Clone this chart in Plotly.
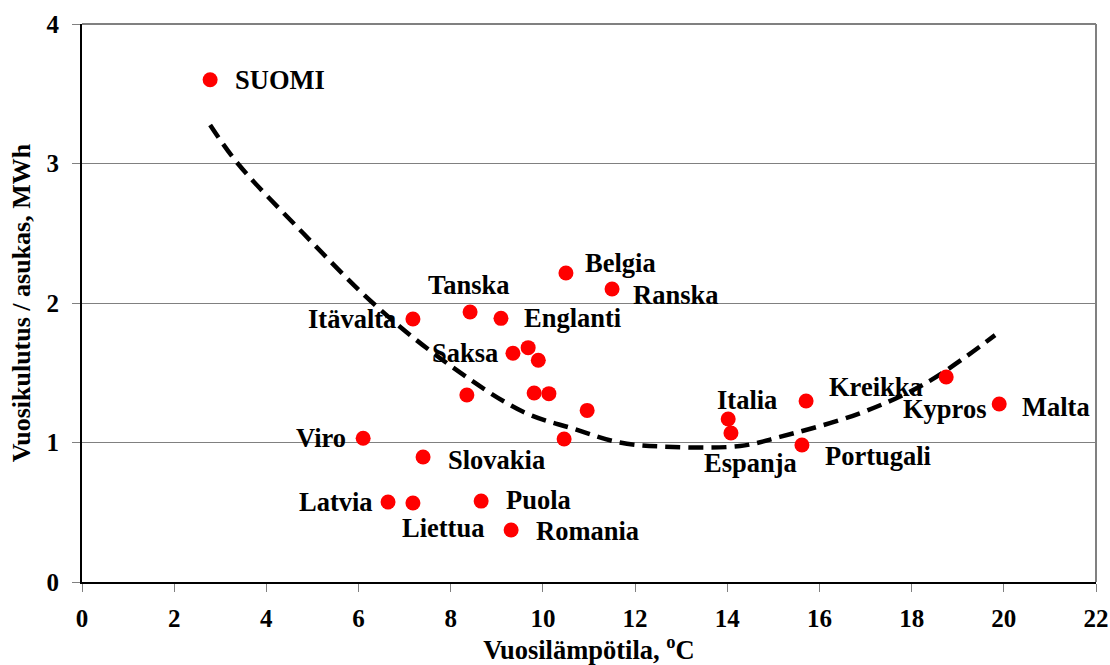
import plotly.graph_objects as go

# annual mean temperature (C) and annual consumption per inhabitant (MWh)
countries = ["SUOMI", "Itävalta", "Tanska", "Englanti", "Belgia", "Ranska",
             "Saksa", "", "", "", "", "", "", "",
             "Viro", "Slovakia", "Latvia", "Liettua", "Puola", "Romania",
             "Italia", "Espanja", "Kreikka", "Portugali", "Kypros", "Malta"]
temp = [2.78, 7.18, 8.42, 9.09, 10.50, 11.50,
        9.35, 9.68, 9.90, 8.35, 9.81, 10.13, 10.96, 10.46,
        6.10, 7.40, 6.64, 7.18, 8.66, 9.31,
        14.02, 14.08, 15.71, 15.62, 18.75, 19.90]
consumption = [3.60, 1.885, 1.935, 1.89, 2.215, 2.10,
               1.64, 1.68, 1.59, 1.34, 1.355, 1.35, 1.23, 1.025,
               1.03, 0.896, 0.573, 0.566, 0.58, 0.373,
               1.168, 1.068, 1.297, 0.982, 1.47, 1.276]

# trend line
trend_x = [2.78, 3.38, 4.8, 6.31, 7.83, 9.57, 10.65, 11.67, 12.82, 14.28, 15.14, 16.88, 18.33, 19.81]
trend_y = [3.276, 3.0, 2.50, 2.0, 1.59, 1.22, 1.10, 1.00, 0.968, 0.975, 1.04, 1.21, 1.43, 1.77]

x_ticks = list(range(0, 23, 2))
y_ticks = [0, 1, 2, 3, 4]

FONT = "Liberation Serif"

# label placement: (xanchor, xshift, yshift) in px
LABEL_POS = {
    "SUOMI": ("left", 23, 0),
    "Itävalta": ("right", -15, 0),
    "Tanska": ("center", -1, 27),
    "Englanti": ("left", 21, 0),
    "Belgia": ("left", 17, 10),
    "Ranska": ("left", 19, -6),
    "Saksa": ("right", -13, 0),
    "Viro": ("right", -15, 0),
    "Slovakia": ("left", 23, -3),
    "Latvia": ("right", -13, 0),
    "Liettua": ("center", 30, -25),
    "Puola": ("left", 23, 1),
    "Romania": ("left", 23, -1),
    "Italia": ("center", 19, 19),
    "Espanja": ("center", 20, -30),
    "Kreikka": ("left", 21, 14),
    "Portugali": ("left", 21, -11),
    "Kypros": ("center", -2, -32),
    "Malta": ("left", 21, -3),
}

fig = go.Figure()

fig.add_trace(go.Scatter(
    x=trend_x, y=trend_y, mode="lines", line_shape="spline",
    line=dict(color="black", width=4.5, dash="15px,8px"),
    showlegend=False, hoverinfo="skip",
))

fig.add_trace(go.Scatter(
    x=temp, y=consumption, mode="markers",
    marker=dict(color="#ff0000", size=15, line=dict(width=0)),
    text=countries, showlegend=False,
))

for name, tx, cy in zip(countries, temp, consumption):
    if not name:
        continue
    anchor, dx, dy = LABEL_POS[name]
    fig.add_annotation(
        x=tx, y=cy, text=name, showarrow=False,
        xanchor=anchor, yanchor="middle", xshift=dx, yshift=dy,
        font=dict(family=FONT, size=26.5, color="black", weight="bold"),
    )

# grey frame on top and right
fig.add_shape(type="line", xref="paper", yref="paper", x0=0, x1=1, y0=1, y1=1,
              line=dict(color="#808080", width=2))
fig.add_shape(type="line", xref="paper", yref="paper", x0=1, x1=1, y0=0, y1=1,
              line=dict(color="#808080", width=2))

fig.update_layout(
    width=1110, height=665,
    paper_bgcolor="white", plot_bgcolor="white",
    margin=dict(l=82, r=14, t=24, b=83),
    font=dict(family=FONT, color="black"),
    xaxis=dict(
        range=[0, 22], tickvals=x_ticks, showgrid=False, zeroline=False,
        showline=True, linecolor="black", linewidth=2, automargin=False,
        ticks="outside", ticklen=8, tickcolor="#808080", tickwidth=1,
        ticklabelstandoff=5,
        tickfont=dict(family=FONT, size=25, weight="bold"),
        title=dict(text="Vuosilämpötila, <sup>o</sup>C", standoff=8,
                   font=dict(family=FONT, size=26.5, weight="bold")),
    ),
    yaxis=dict(
        range=[0, 4], tickvals=y_ticks, showgrid=True, gridcolor="#808080", gridwidth=1,
        zeroline=False, showline=True, linecolor="black", linewidth=2, automargin=False,
        ticks="outside", ticklen=8, tickcolor="#808080", tickwidth=1,
        ticklabelstandoff=8,
        tickfont=dict(family=FONT, size=25, weight="bold"),
        title=dict(text="Vuosikulutus / asukas, MWh", standoff=8,
                   font=dict(family=FONT, size=26, weight="bold")),
    ),
)

fig.write_html(
    "out.html",
    config={"displayModeBar": False},
    post_script="document.body.style.margin='0';document.body.style.overflow='hidden';",
)
